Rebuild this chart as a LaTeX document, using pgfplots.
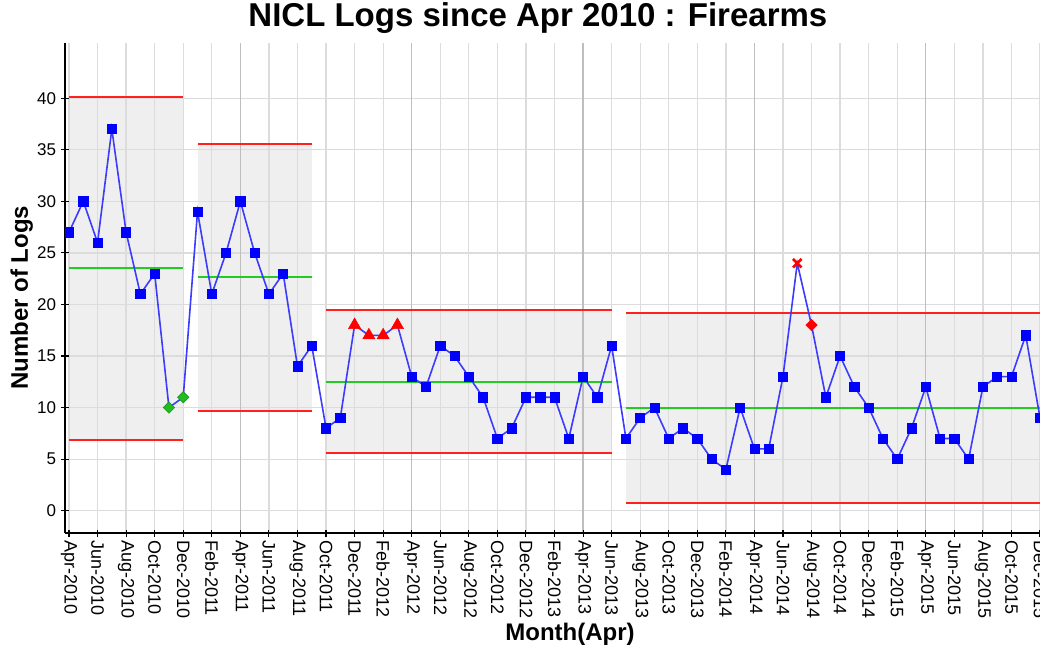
\documentclass[border=0pt]{standalone}
\usepackage{fontspec}
\setmainfont{Liberation Sans}
\usepackage{pgfplots}
\usepackage{pgfplotstable}
\pgfplotsset{compat=1.18}
\definecolor{gridgray}{HTML}{DCDCDC}
\definecolor{aprgray}{HTML}{BEBEBE}
\definecolor{bandgray}{HTML}{EFEFEF}
\definecolor{limred}{HTML}{FF2020}
\definecolor{clgreen}{HTML}{22CC22}
\definecolor{lineblue}{HTML}{3C3CFF}
\definecolor{markblue}{HTML}{0000FF}
\definecolor{diagreen}{HTML}{22BB22}

% month index (0 = Apr 2010), logs, flag (0 normal, 1 low run, 2 high run, 3 beyond UCL, 4 trend)
\pgfplotstableread{
i v f
0 27 0
1 30 0
2 26 0
3 37 0
4 27 0
5 21 0
6 23 0
7 10 1
8 11 1
9 29 0
10 21 0
11 25 0
12 30 0
13 25 0
14 21 0
15 23 0
16 14 0
17 16 0
18 8 0
19 9 0
20 18 2
21 17 2
22 17 2
23 18 2
24 13 0
25 12 0
26 16 0
27 15 0
28 13 0
29 11 0
30 7 0
31 8 0
32 11 0
33 11 0
34 11 0
35 7 0
36 13 0
37 11 0
38 16 0
39 7 0
40 9 0
41 10 0
42 7 0
43 8 0
44 7 0
45 5 0
46 4 0
47 10 0
48 6 0
49 6 0
50 13 0
51 24 3
52 18 4
53 11 0
54 15 0
55 12 0
56 10 0
57 7 0
58 5 0
59 8 0
60 12 0
61 7 0
62 7 0
63 5 0
64 12 0
65 13 0
66 13 0
67 17 0
68 9 0
}\logs

\begin{document}
\begin{tikzpicture}
\begin{axis}[
  name=ax,
  set layers,
  scale only axis,
  width=975pt, height=490pt,
  xmin=-0.28, xmax=68.0,
  ymin=-2.16, ymax=45.35,
  axis x line=bottom, axis y line=left,
  axis line style={-, line width=1.4pt},
  xtick={0,2,...,68},
  xticklabels={Apr-2010,Jun-2010,Aug-2010,Oct-2010,Dec-2010,
    Feb-2011,Apr-2011,Jun-2011,Aug-2011,Oct-2011,Dec-2011,
    Feb-2012,Apr-2012,Jun-2012,Aug-2012,Oct-2012,Dec-2012,
    Feb-2013,Apr-2013,Jun-2013,Aug-2013,Oct-2013,Dec-2013,
    Feb-2014,Apr-2014,Jun-2014,Aug-2014,Oct-2014,Dec-2014,
    Feb-2015,Apr-2015,Jun-2015,Aug-2015,Oct-2015,Dec-2015},
  ytick={0,5,...,40},
  tick align=center,
  major tick length=7pt,
  tick style={black, line width=1.1pt},
  grid=major,
  major grid style={draw=gridgray, line width=1.3pt},
  extra x ticks={12,24,36,48,60},
  extra x tick labels={},
  extra x tick style={grid=major, major grid style={draw=aprgray, line width=1.3pt}},
  /pgf/number format/assume math mode=true,
  tick label style={font=\fontsize{17}{17}\selectfont},
  yticklabel style={xshift=-2pt},
  xticklabel style={rotate=-90, anchor=west, font=\fontsize{18}{18}\selectfont},
  title={NICL Logs since Apr 2010 : Firearms},
  title style={font=\fontsize{33}{33}\selectfont\bfseries,
    at={(axis description cs:0.485,1.0204)}, anchor=base},
  xlabel={Month(Apr)},
  xlabel style={font=\fontsize{24}{24}\selectfont\bfseries,
    at={(axis description cs:0.518,-0.2184)}, anchor=base},
  ylabel={Number of Logs},
  ylabel style={font=\fontsize{24}{24}\selectfont\bfseries,
    at={(axis description cs:-0.038,0.48)}, anchor=base},
  clip marker paths=true,
]
% shaded control bands, under the grid
\addplot[on layer=axis background, draw=none, fill=bandgray] coordinates {(0,6.9) (8,6.9) (8,40.15) (0,40.15)} -- cycle;
\addplot[on layer=axis background, draw=none, fill=bandgray] coordinates {(9,9.7) (17,9.7) (17,35.6) (9,35.6)} -- cycle;
\addplot[on layer=axis background, draw=none, fill=bandgray] coordinates {(18,5.55) (38,5.55) (38,19.45) (18,19.45)} -- cycle;
\addplot[on layer=axis background, draw=none, fill=bandgray] coordinates {(39,0.75) (69,0.75) (69,19.15) (39,19.15)} -- cycle;
% limits
\addplot[limred, line width=2pt] coordinates {(0,40.15) (8,40.15)};
\addplot[limred, line width=2pt] coordinates {(0,6.9) (8,6.9)};
\addplot[clgreen, line width=2pt] coordinates {(0,23.56) (8,23.56)};
\addplot[limred, line width=2pt] coordinates {(9,35.6) (17,35.6)};
\addplot[limred, line width=2pt] coordinates {(9,9.7) (17,9.7)};
\addplot[clgreen, line width=2pt] coordinates {(9,22.67) (17,22.67)};
\addplot[limred, line width=2pt] coordinates {(18,19.45) (38,19.45)};
\addplot[limred, line width=2pt] coordinates {(18,5.55) (38,5.55)};
\addplot[clgreen, line width=2pt] coordinates {(18,12.48) (38,12.48)};
\addplot[limred, line width=2pt] coordinates {(39,19.15) (69,19.15)};
\addplot[limred, line width=2pt] coordinates {(39,0.75) (69,0.75)};
\addplot[clgreen, line width=2pt] coordinates {(39,9.95) (69,9.95)};
% series
\addplot[lineblue, line width=1.6pt, mark=none] table[x=i, y=v] {\logs};
\addplot[only marks, mark=square*, mark size=4.6pt, mark options={fill=markblue, draw=markblue, line width=0.6pt},
  restrict expr to domain={\thisrow{f}}{0:0}] table[x=i, y=v] {\logs};
\addplot[only marks, mark=square*, mark size=4pt, mark options={rotate=45, fill=diagreen, draw=diagreen!80!black, line width=0.6pt},
  restrict expr to domain={\thisrow{f}}{1:1}] table[x=i, y=v] {\logs};
\addplot[only marks, mark=triangle*, mark size=7pt, mark options={fill=red, draw=red, line width=0.6pt},
  restrict expr to domain={\thisrow{f}}{2:2}] table[x=i, y=v] {\logs};
\addplot[only marks, mark=x, mark size=6pt, mark options={draw=red, line width=2.6pt},
  restrict expr to domain={\thisrow{f}}{3:3}] table[x=i, y=v] {\logs};
\addplot[only marks, mark=square*, mark size=4pt, mark options={rotate=45, fill=red, draw=red, line width=0.6pt},
  restrict expr to domain={\thisrow{f}}{4:4}] table[x=i, y=v] {\logs};
\end{axis}
\pgfresetboundingbox
\path ([xshift=-65pt, yshift=-117pt]ax.south west) rectangle ++(1040pt,650pt);
\end{tikzpicture}
\end{document}
